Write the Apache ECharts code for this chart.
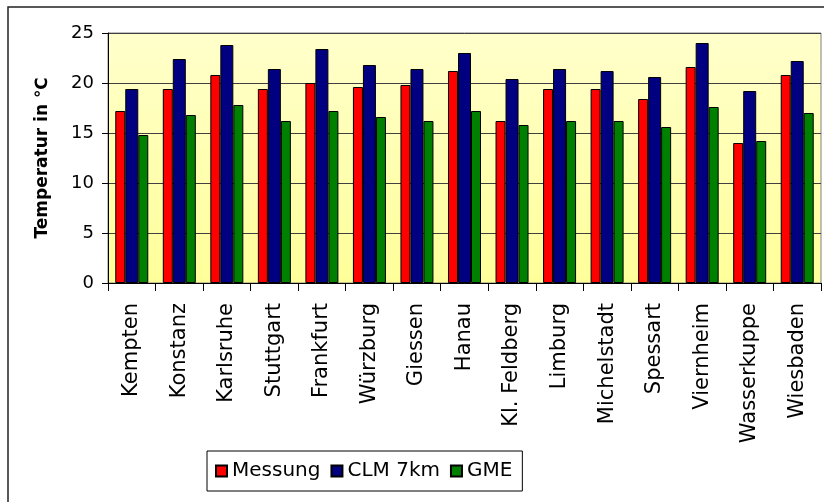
<!DOCTYPE html>
<html>
<head>
<meta charset="utf-8">
<script src="https://cdn.jsdelivr.net/npm/echarts@6/dist/echarts.min.js"></script>
<style>html,body{margin:0;padding:0;background:#fff;}#c{width:824px;height:502px;}</style>
</head>
<body>
<div id="c"></div>
<script>
var categories = ['Kempten','Konstanz','Karlsruhe','Stuttgart','Frankfurt','Würzburg','Giessen','Hanau','Kl. Feldberg','Limburg','Michelstadt','Spessart','Viernheim','Wasserkuppe','Wiesbaden'];
var messung = [17.2,19.4,20.8,19.4,20.0,19.6,19.8,21.2,16.2,19.4,19.4,18.4,21.6,14.0,20.8];
var clm7km  = [19.4,22.4,23.8,21.4,23.4,21.8,21.4,23.0,20.4,21.4,21.2,20.6,24.0,19.2,22.2];
var gme     = [14.8,16.8,17.8,16.2,17.2,16.6,16.2,17.2,15.8,16.2,16.2,15.6,17.6,14.2,17.0];
var yTicks = [0,5,10,15,20,25];

var chart = echarts.init(document.getElementById('c'));
var font = 'DejaVu Sans';
chart.setOption({
  animation: false,
  backgroundColor: '#ffffff',
  graphic: [{
    type: 'rect', silent: true, z: -10,
    shape: {x: 8, y: 7, width: 900, height: 600},
    style: {fill: 'none', stroke: '#222', lineWidth: 1.5}
  }],
  grid: {
    left: 108, top: 33, right: 3, bottom: 219,
    show: true,
    borderColor: '#808080', borderWidth: 1,
    backgroundColor: new echarts.graphic.LinearGradient(0, 0, 0, 1, [
      {offset: 0, color: '#FFFFCC'},
      {offset: 1, color: '#FFFF99'}
    ])
  },
  legend: {
    left: 207, top: 451,
    padding: [10, 10, 10, 8],
    itemWidth: 11, itemHeight: 11, itemGap: 10,
    borderColor: '#000', borderWidth: 1,
    backgroundColor: '#fff',
    icon: 'rect',
    textStyle: {fontFamily: font, fontSize: 20, color: '#000'},
    data: ['Messung', 'CLM 7km', 'GME']
  },
  xAxis: {
    type: 'category',
    data: categories,
    axisLine: {lineStyle: {color: '#000', width: 1}},
    axisTick: {show: true, length: 8, lineStyle: {color: '#000'}},
    axisLabel: {rotate: 90, margin: 20, fontFamily: font, fontSize: 21, color: '#000', interval: 0}
  },
  yAxis: {
    type: 'value',
    min: yTicks[0], max: yTicks[yTicks.length - 1], interval: 5,
    name: 'Temperatur in ℃',
    nameLocation: 'middle',
    nameGap: 57,
    nameTextStyle: {fontFamily: font, fontSize: 17, fontWeight: 'bold', color: '#000'},
    axisLine: {show: true, lineStyle: {color: '#000', width: 1}},
    axisTick: {show: true, length: 6, lineStyle: {color: '#000'}},
    axisLabel: {margin: 14, fontFamily: font, fontSize: 18, color: '#000'},
    splitLine: {show: true, lineStyle: {color: '#404040', width: 1}}
  },
  series: [
    {name: 'Messung', type: 'bar', data: messung, barWidth: 10, barGap: '0%',
     itemStyle: {color: '#FF0000', borderColor: '#000', borderWidth: 1}},
    {name: 'CLM 7km', type: 'bar', data: clm7km, barWidth: 13, barGap: '0%',
     itemStyle: {color: '#000080', borderColor: '#000', borderWidth: 1}},
    {name: 'GME', type: 'bar', data: gme, barWidth: 10, barGap: '0%',
     itemStyle: {color: '#008000', borderColor: '#000', borderWidth: 1}}
  ]
});
</script>
</body>
</html>
